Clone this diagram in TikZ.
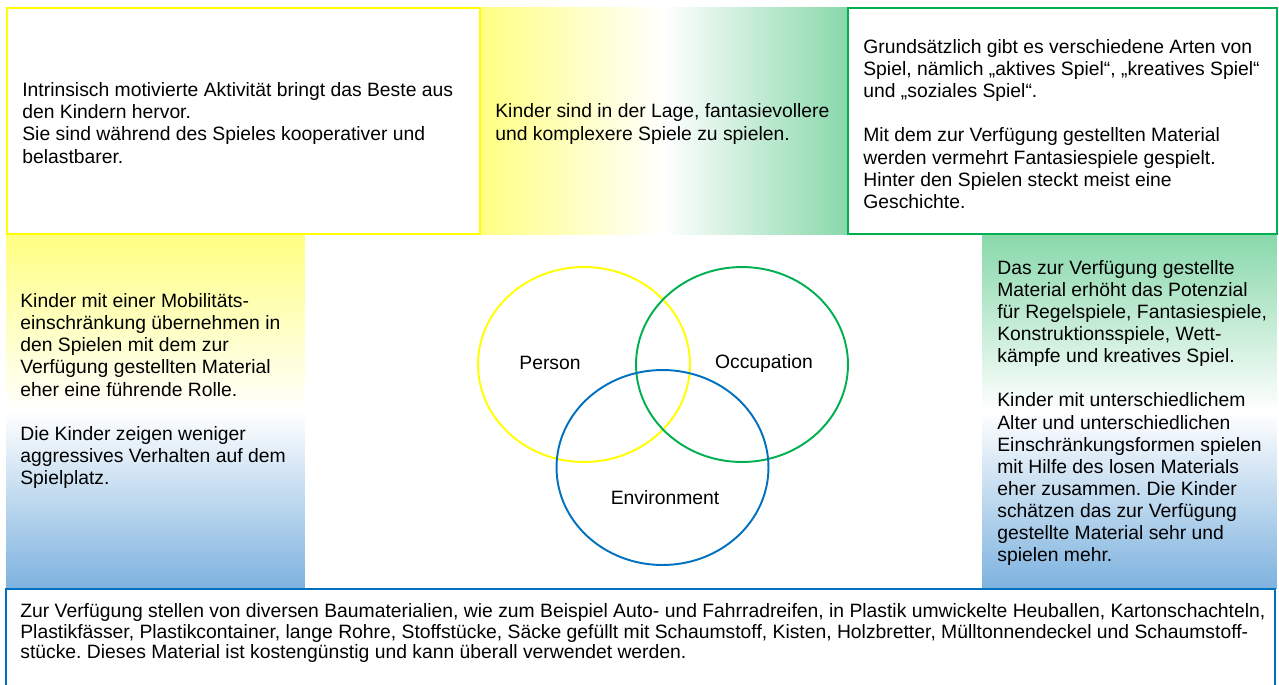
\documentclass[tikz,border=0pt]{standalone}
\usepackage{fontspec}
\setmainfont{Liberation Sans}
\usetikzlibrary{shapes.geometric}
\frenchspacing

\definecolor{lineyellow}{RGB}{255,255,0}
\definecolor{linegreen}{RGB}{0,176,80}
\definecolor{lineblue}{RGB}{0,112,192}
\definecolor{bandyellow}{RGB}{255,255,130}
\definecolor{bandgreen}{RGB}{136,216,170}
\definecolor{bandblue}{RGB}{125,178,222}

\newcommand{\bodyfont}{\fontsize{11}{12.6}\selectfont}

\tikzset{
  band/.style={rectangle, inner sep=0pt, draw=none},
  framebox/.style={rectangle, inner sep=0pt, fill=white, line width=1.3pt},
  note/.style={anchor=west, align=left, inner sep=0pt, font=\bodyfont},
  ring/.style={ellipse, draw, line width=1.1pt, minimum width=4.24cm, minimum height=3.9cm, inner sep=0pt},
  ringlabel/.style={font=\bodyfont, inner sep=0pt},
}

\begin{document}
\begin{tikzpicture}[x=0.02cm, y=-0.02cm]
			\useasboundingbox (0,0) rectangle (1279,684);
			\clip (0,0) rectangle (1279,684);
			
			% Colour bands between the framed boxes
			\node[band, left color=bandyellow, right color=bandgreen, middle color=white, minimum width=7.36cm, minimum height=4.56cm] (topband) at (664,121) {};
			\node[band, top color=bandyellow, bottom color=bandblue, middle color=white, minimum width=5.98cm, minimum height=7.1cm] (leftband) at (155.5,411.5) {};
			\node[band, top color=bandgreen, bottom color=bandblue, middle color=white, minimum width=5.9cm, minimum height=7.1cm] (rightband) at (1129.5,411.5) {};
			
			% Framed boxes
			\node[framebox, draw=lineyellow, minimum width=9.46cm, minimum height=4.52cm] (motivbox) at (243.5,121) {};
			\node[framebox, draw=linegreen, minimum width=8.58cm, minimum height=4.52cm] (typesbox) at (1062.5,121) {};
			\node[framebox, draw=lineblue, minimum width=25.38cm, minimum height=2.42cm] (materialbox) at (640.5,649.5) {};
			
			% Texts
			\node[note] (motivtext) at (22,123) {Intrinsisch motivierte Aktivität bringt das Beste aus\\den Kindern hervor.\\Sie sind während des Spieles kooperativer und\\belastbarer.};
			\node[note] (fantasytext) at (495,124) {Kinder sind in der Lage, fantasievollere\\und komplexere Spiele zu spielen.};
			\node[note] (typestext) at (863,124) {Grundsätzlich gibt es verschiedene Arten von\\Spiel, nämlich „aktives Spiel“, „kreatives Spiel“\\und „soziales Spiel“.\\[12.6pt]Mit dem zur Verfügung gestellten Material\\werden vermehrt Fantasiespiele gespielt.\\Hinter den Spielen steckt meist eine\\Geschichte.};
			\node[note] (mobiltext) at (20,391) {Kinder mit einer Mobilitäts-\\einschränkung übernehmen in\\den Spielen mit dem zur\\Verfügung gestellten Material\\eher eine führende Rolle.\\[12.6pt]Die Kinder zeigen weniger\\aggressives Verhalten auf dem\\Spielplatz.};
			\node[note] (potentext) at (997,413) {Das zur Verfügung gestellte\\Material erhöht das Potenzial\\für Regelspiele, Fantasiespiele,\\Konstruktionsspiele, Wett-\\kämpfe und kreatives Spiel.\\[12.6pt]Kinder mit unterschiedlichem\\Alter und unterschiedlichen\\Einschränkungsformen spielen\\mit Hilfe des losen Materials\\eher zusammen. Die Kinder\\schätzen das zur Verfügung\\gestellte Material sehr und\\spielen mehr.};
			\node[note, font=\fontsize{11}{11.8}\selectfont] (materialtext) at (20,633) {Zur Verfügung stellen von diversen Baumaterialien, wie zum Beispiel Auto- und Fahrradreifen, in Plastik umwickelte Heuballen, Kartonschachteln,\\Plastikfässer, Plastikcontainer, lange Rohre, Stoffstücke, Säcke gefüllt mit Schaumstoff, Kisten, Holzbretter, Mülltonnendeckel und Schaumstoff-\\stücke. Dieses Material ist kostengünstig und kann überall verwendet werden.};
			
			% Venn diagram in the middle
			\node[ring, draw=lineyellow] (personring) at (584,364.5) {};
			\node[ring, draw=linegreen] (occupring) at (742,364.5) {};
			\node[ring, draw=lineblue] (envring) at (662.5,467.5) {};
			\node[ringlabel] (person) at (550,363) {Person};
			\node[ringlabel] (occupation) at (764,363) {Occupation};
			\node[ringlabel] (environment) at (665,498) {Environment};
		\end{tikzpicture}
\end{document}
